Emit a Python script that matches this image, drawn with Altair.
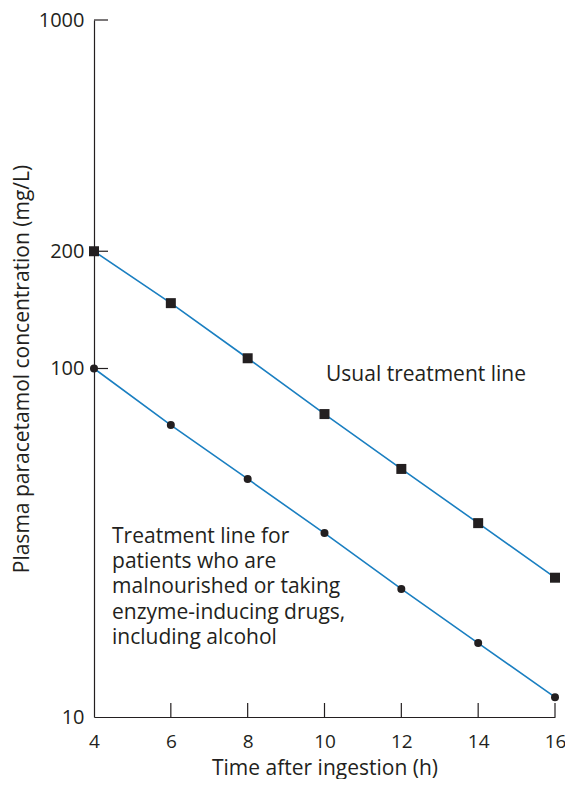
import altair as alt
import pandas as pd

# Data
hours = [4, 6, 8, 10, 12, 14, 16]
usual_line = [217, 154, 107, 74.0, 51.5, 36.0, 25.1]
low_line = [100, 68.8, 48.2, 33.7, 23.3, 16.3, 11.4]
x_ticks = [4, 6, 8, 10, 12, 14, 16]
y_ticks = [10, 100, 217, 1000]
y_tick_labels = ["10", "100", "200", "1000"]

rows = []
for h, v in zip(hours, usual_line):
    rows.append({"t": h, "c": v, "series": "usual"})
for h, v in zip(hours, low_line):
    rows.append({"t": h, "c": v, "series": "low"})
df = pd.DataFrame(rows)

ann = pd.DataFrame([
    {"t": 10.04, "c": 95.8, "txt": ["Usual treatment line"]},
    {"t": 4.47, "c": 32.9, "txt": ["Treatment line for", "patients who are",
                                   "malnourished or taking",
                                   "enzyme-inducing drugs,",
                                   "including alcohol"]},
])

FONT = "Open Sans"
INK = "#231f20"
BLUE = "#1a7fc1"

label_map = "{" + ",".join(f"'{v}':'{l}'" for v, l in zip(y_ticks, y_tick_labels)) + "}"

xs = alt.X("t:Q", scale=alt.Scale(domain=[4, 16], nice=False),
           axis=alt.Axis(values=x_ticks, title="Time after ingestion (h)",
                         tickSize=0, labelPadding=15, titlePadding=6,
                         labelFontSize=19, grid=False))
ys = alt.Y("c:Q", scale=alt.Scale(type="log", domain=[10, 1000], nice=False),
           axis=alt.Axis(values=y_ticks, title="Plasma paracetamol concentration (mg/L)",
                         labelExpr=f"{label_map}[datum.value]",
                         tickSize=0, labelPadding=10, titlePadding=6,
                         labelFontSize=20, grid=False))

base = alt.Chart(df)

lines = base.mark_line(color=BLUE, strokeWidth=1.6).encode(
    x=xs, y=ys, detail="series:N")

squares = base.transform_filter(alt.datum.series == "usual").mark_point(
    shape="square", filled=True, color=INK, size=100, opacity=1).encode(x="t:Q", y="c:Q")
circles = base.transform_filter(alt.datum.series == "low").mark_point(
    shape="circle", filled=True, color=INK, size=64, opacity=1).encode(x="t:Q", y="c:Q")

xt = pd.DataFrame({"t": x_ticks[1:]})
xtick_rules = alt.Chart(xt).mark_rule(color=INK, strokeWidth=1.2).encode(
    x="t:Q", y=alt.value(697), y2=alt.value(683))

yt = pd.DataFrame({"c": [v for v in y_ticks if v != 10]})
ytick_rules = alt.Chart(yt).mark_rule(color=INK, strokeWidth=1.2).encode(
    y="c:Q", x=alt.value(0), x2=alt.value(14))

text = alt.Chart(ann).mark_text(align="left", baseline="middle", font=FONT,
                                fontSize=21, color=INK, lineHeight=25.3).encode(
    x="t:Q", y="c:Q", text="txt")

chart = alt.layer(lines, squares, circles, xtick_rules, ytick_rules, text).properties(
    width=461, height=697,
    autosize=alt.AutoSizeParams(type="none"),
    padding={"left": 86, "top": 12, "right": 10, "bottom": 62},
).configure_view(stroke=None).configure_axis(
    domainColor=INK, domainWidth=1.2, labelFont=FONT, titleFont=FONT,
    titleFontSize=21, labelColor=INK, titleColor=INK,
    titleFontWeight="normal", labelFlush=False, labelOverlap=False
)

chart.save("out.html", embed_options={"renderer": "svg", "actions": False})
